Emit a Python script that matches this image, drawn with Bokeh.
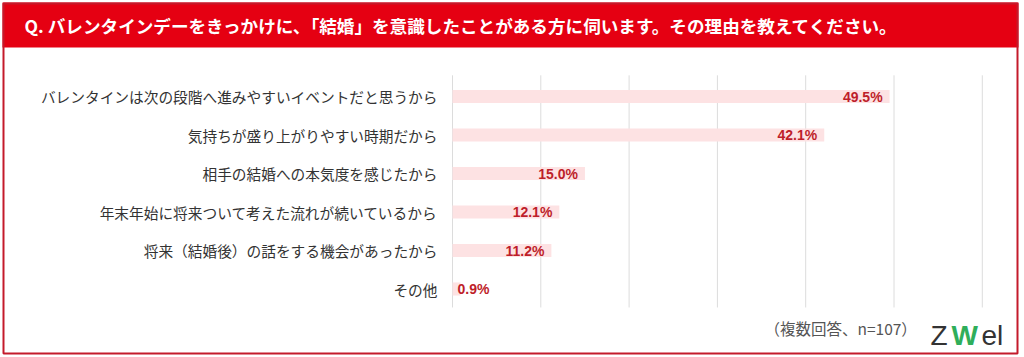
from bokeh.plotting import figure
from bokeh.models import ColumnDataSource, Range1d, BoxAnnotation, Label
from bokeh.embed import file_html
from bokeh.resources import INLINE
from bokeh.core.properties import value

title = "Q. バレンタインデーをきっかけに、「結婚」を意識したことがある方に伺います。その理由を教えてください。"
categories = [
    "バレンタインは次の段階へ進みやすいイベントだと思うから",
    "気持ちが盛り上がりやすい時期だから",
    "相手の結婚への本気度を感じたから",
    "年末年始に将来ついて考えた流れが続いているから",
    "将来（結婚後）の話をする機会があったから",
    "その他",
]
percent = [49.5, 42.1, 15.0, 12.1, 11.2, 0.9]
grid_ticks = [0, 10, 20, 30, 40, 50, 60]
note = "（複数回答、n=107）"

JP = "Noto Sans CJK JP"
W, H = 1024, 357
X0_PX = 452.0          # pixel position of 0 %
PX_PER_PCT = 8.83
ROW0_PX = 96.0         # pixel centre of first row
ROW_PX = 38.5          # row spacing

n = len(categories)
rows = list(range(n))
labels = [f"{v:.1f}%" for v in percent]
big = [v >= 5 for v in percent]

src = ColumnDataSource(dict(row=rows, cat=categories, pct=percent, lab=labels))
inside = ColumnDataSource(dict(row=[r for r, b in zip(rows, big) if b],
                               pct=[v for v, b in zip(percent, big) if b],
                               lab=[l for l, b in zip(labels, big) if b]))
outside = ColumnDataSource(dict(row=[r for r, b in zip(rows, big) if not b],
                                pct=[v for v, b in zip(percent, big) if not b],
                                lab=[l for l, b in zip(labels, big) if not b]))

x_range = Range1d(-X0_PX / PX_PER_PCT, (W - X0_PX) / PX_PER_PCT)
y_range = Range1d((H - ROW0_PX) / ROW_PX, -ROW0_PX / ROW_PX)

p = figure(width=W, height=H, output_backend="svg", toolbar_location=None,
           x_range=x_range, y_range=y_range,
           x_axis_location=None, y_axis_location=None, min_border=0)
p.outline_line_color = None
p.background_fill_color = "white"
p.border_fill_color = "white"
p.grid.visible = False

# vertical grid lines
p.segment(x0=grid_ticks, x1=grid_ticks, y0=-0.55, y1=n - 0.52,
          line_color="#dcdcdc", line_width=1)

# bars
p.hbar(y="row", left=0, right="pct", height=0.34, source=src,
       fill_color="#fde2e3", line_color=None)

# category labels
p.text(x=0, y="row", text="cat", source=src, x_offset=-15,
       text_align="right", text_baseline="middle",
       text_font=value(JP), text_font_size="14.7px", text_color="#333333")

# value labels
p.text(x="pct", y="row", text="lab", source=inside, x_offset=-7,
       text_align="right", text_baseline="middle",
       text_font=value("Liberation Sans"), text_font_style="bold",
       text_font_size="14px", text_color="#be1e2a")
p.text(x=0, y="row", text="lab", source=outside, x_offset=5,
       text_align="left", text_baseline="middle",
       text_font=value("Liberation Sans"), text_font_style="bold",
       text_font_size="14px", text_color="#be1e2a")

# header band and frame
p.add_layout(BoxAnnotation(left=2, right=1018, top=2, bottom=47,
                           left_units="canvas", right_units="canvas",
                           top_units="canvas", bottom_units="canvas",
                           fill_color="#e50012", fill_alpha=1, line_color=None))
p.add_layout(BoxAnnotation(left=3, right=1017, top=3, bottom=353,
                           left_units="canvas", right_units="canvas",
                           top_units="canvas", bottom_units="canvas",
                           fill_alpha=0, line_color="#c41a2b", line_alpha=1,
                           line_width=2))
p.add_layout(Label(x=24, y=25, x_units="canvas", y_units="canvas", text=title,
                   text_baseline="middle", text_color="white", text_font=JP,
                   text_font_size="17.6px", text_font_style="bold"))
p.add_layout(Label(x=764, y=327, x_units="canvas", y_units="canvas", text=note,
                   text_baseline="middle", text_color="#555555", text_font=JP,
                   text_font_size="15.5px"))
# logo
p.add_layout(Label(x=930, y=335, x_units="canvas", y_units="canvas", text="Z",
                   text_baseline="alphabetic", text_color="#333333",
                   text_font="Liberation Sans", text_font_size="28px"))
p.add_layout(Label(x=951, y=335, x_units="canvas", y_units="canvas", text="W",
                   text_baseline="alphabetic", text_color="#2fae5a",
                   text_font="Liberation Sans", text_font_size="28px",
                   text_font_style="bold"))
p.add_layout(Label(x=981, y=335, x_units="canvas", y_units="canvas", text="el",
                   text_baseline="alphabetic", text_color="#333333",
                   text_font="Liberation Sans", text_font_size="28px"))

open("out.html", "w").write(file_html(p, INLINE))
